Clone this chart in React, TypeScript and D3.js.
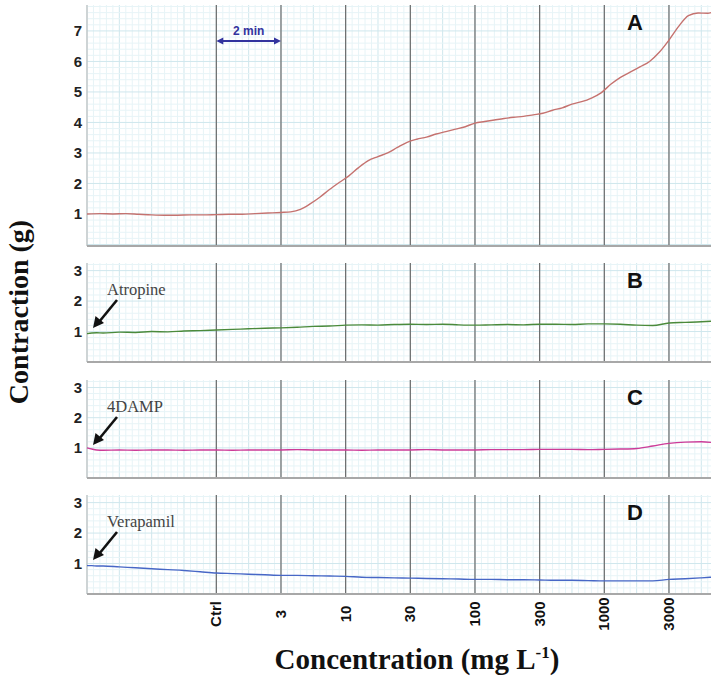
import React from "react";
import * as d3 from "d3";

// ---- data ----
const concLabels = ["Ctrl", "3", "10", "30", "100", "300", "1000", "3000"];
const concTimes = [4, 6, 8, 10, 12, 14, 16, 18]; // minutes on the trace

const aTime = [0, 0.4, 0.8, 1.2, 1.6, 2.0, 2.4, 2.8, 3.2, 3.6, 4.0, 4.4, 4.8, 5.2, 5.6, 6.0, 6.3, 6.6, 6.9, 7.2, 7.5, 7.8, 8.1, 8.4, 8.7, 9.0, 9.3, 9.6, 9.9, 10.2, 10.5, 10.8, 11.1, 11.4, 11.7, 12.0, 12.3, 12.6, 12.9, 13.2, 13.5, 13.8, 14.1, 14.4, 14.7, 15.0, 15.3, 15.6, 15.9, 16.2, 16.5, 16.8, 17.1, 17.4, 17.7, 18.0, 18.3, 18.6, 18.9, 19.2, 19.3];
const aValues = [1.0, 1.01, 1.0, 1.01, 0.99, 0.97, 0.96, 0.96, 0.97, 0.97, 0.98, 0.99, 0.99, 1.01, 1.03, 1.05, 1.07, 1.15, 1.33, 1.55, 1.8, 2.03, 2.25, 2.52, 2.75, 2.88, 3.0, 3.18, 3.35, 3.45, 3.52, 3.62, 3.7, 3.78, 3.86, 3.98, 4.03, 4.08, 4.13, 4.17, 4.2, 4.25, 4.3, 4.4, 4.48, 4.6, 4.68, 4.8, 4.97, 5.25, 5.48, 5.65, 5.82, 6.0, 6.3, 6.7, 7.15, 7.5, 7.59, 7.58, 7.6];

const bcdTime = [0, 0.15, 0.3, 0.5, 1.0, 1.5, 2.0, 2.5, 3.0, 3.5, 4.0, 4.5, 5.0, 5.5, 6.0, 6.5, 7.0, 7.5, 8.0, 8.5, 9.0, 9.5, 10.0, 10.5, 11.0, 11.5, 12.0, 12.5, 13.0, 13.5, 14.0, 14.5, 15.0, 15.5, 16.0, 16.5, 17.0, 17.5, 18.0, 18.5, 19.0, 19.3];
const atropine = [0.93, 0.95, 0.96, 0.95, 0.98, 0.97, 1.0, 0.99, 1.02, 1.03, 1.05, 1.07, 1.09, 1.11, 1.12, 1.14, 1.17, 1.18, 1.21, 1.22, 1.21, 1.23, 1.24, 1.23, 1.24, 1.22, 1.21, 1.22, 1.23, 1.22, 1.24, 1.24, 1.23, 1.25, 1.25, 1.24, 1.21, 1.2, 1.28, 1.3, 1.32, 1.34];
const damp4 = [1.0, 0.96, 0.93, 0.92, 0.93, 0.92, 0.93, 0.93, 0.92, 0.93, 0.93, 0.92, 0.93, 0.93, 0.93, 0.94, 0.93, 0.93, 0.93, 0.92, 0.93, 0.93, 0.93, 0.94, 0.93, 0.93, 0.93, 0.94, 0.94, 0.94, 0.95, 0.95, 0.95, 0.94, 0.95, 0.96, 0.98, 1.06, 1.15, 1.19, 1.2, 1.18];
const verapamil = [0.93, 0.93, 0.92, 0.92, 0.89, 0.86, 0.83, 0.8, 0.77, 0.73, 0.69, 0.67, 0.65, 0.63, 0.61, 0.61, 0.6, 0.59, 0.58, 0.55, 0.54, 0.53, 0.52, 0.51, 0.5, 0.49, 0.48, 0.48, 0.47, 0.47, 0.46, 0.45, 0.45, 0.44, 0.43, 0.43, 0.43, 0.43, 0.48, 0.5, 0.53, 0.55];

const panelLetters = ["A", "B", "C", "D"];
const drugNames = ["", "Atropine", "4DAMP", "Verapamil"];
const panelTicksA = [1, 2, 3, 4, 5, 6, 7];
const panelTicksBCD = [1, 2, 3];

// ---- layout ----
const W = 717;
const H = 679;
const X0 = 87;
const X1 = 711;
const tMax = 19.3;

const x = d3.scaleLinear().domain([0, tMax]).range([X0, X1]);

const panels = [
  { letter: panelLetters[0], drug: drugNames[0], top: 5, bottom: 246, domain: [-0.05, 7.85], ticks: panelTicksA, t: aTime, v: aValues, color: "#c5726f" },
  { letter: panelLetters[1], drug: drugNames[1], top: 263, bottom: 362, domain: [0, 3.25], ticks: panelTicksBCD, t: bcdTime, v: atropine, color: "#4b8a3b" },
  { letter: panelLetters[2], drug: drugNames[2], top: 380, bottom: 478, domain: [0, 3.25], ticks: panelTicksBCD, t: bcdTime, v: damp4, color: "#cc3b98" },
  { letter: panelLetters[3], drug: drugNames[3], top: 495, bottom: 594, domain: [0, 3.25], ticks: panelTicksBCD, t: bcdTime, v: verapamil, color: "#4767c6" },
];

const minorX = d3.range(0, tMax + 0.001, 0.2);
const SANS = "'Liberation Sans', Arial, sans-serif";
const SERIF = "'Liberation Serif', 'Times New Roman', serif";

function Panel({ p }: { p: any }) {
  const y = d3.scaleLinear().domain(p.domain).range([p.bottom, p.top]);
  const minorY = d3.range(Math.ceil(p.domain[0] / 0.2) * 0.2, p.domain[1] + 0.001, 0.2);
  const pts: [number, number][] = p.t.map((t: number, i: number) => [t, p.v[i]]);
  const line = d3
    .line<[number, number]>()
    .x((d) => x(d[0]))
    .y((d) => y(d[1]))
    .curve(d3.curveMonotoneX);
  return (
    <g>
      {minorX.map((t, i) => {
        const major = Math.abs(t - Math.round(t)) < 1e-6;
        return (
          <line key={"vx" + i} x1={x(t)} x2={x(t)} y1={p.top} y2={p.bottom}
            stroke={major ? "#cfe7ed" : "#e7f4f7"} strokeWidth={1} />
        );
      })}
      {minorY.map((v, i) => {
        const major = Math.abs(v - Math.round(v)) < 1e-6;
        return (
          <line key={"hy" + i} x1={X0} x2={X1} y1={y(v)} y2={y(v)}
            stroke={major ? "#cfe7ed" : "#e7f4f7"} strokeWidth={1} />
        );
      })}
      {concTimes.map((t, i) => (
        <line key={"c" + i} x1={x(t)} x2={x(t)} y1={p.top} y2={p.bottom}
          stroke="#6a6a6a" strokeWidth={1.2} />
      ))}
      <line x1={X0} x2={X0} y1={p.top} y2={p.bottom} stroke="#b5b5b5" strokeWidth={1} />
      <line x1={X0} x2={X1} y1={p.bottom} y2={p.bottom} stroke="#a8a8a8" strokeWidth={2} />
      {p.ticks.map((v: number) => (
        <text key={"yt" + v} x={82} y={y(v)} dy="0.36em" textAnchor="end"
          fontFamily={SANS} fontWeight="bold" fontSize={15} fill="#222">{v}</text>
      ))}
      <path d={line(pts) || ""} fill="none" stroke={p.color} strokeWidth={1.4} />
      <text x={635} y={p.top + 25} textAnchor="middle" fontFamily={SANS}
        fontWeight="bold" fontSize={22} fill="#111">{p.letter}</text>
      {p.drug && (
        <g>
          <text x={107} y={p.top + 32} fontFamily={SERIF} fontSize={16.5} fill="#444">{p.drug}</text>
          <line x1={117} y1={p.top + 37} x2={99} y2={p.top + 59} stroke="#111" strokeWidth={2.6} />
          <path d={`M${93},${p.top + 65} L${95.5},${p.top + 53} L${104},${p.top + 60} Z`} fill="#111" />
        </g>
      )}
    </g>
  );
}

export default function App() {
  return (
    <svg width={W} height={H} style={{ position: "absolute", left: 0, top: 0, background: "#fff" }}>
      <rect x={0} y={0} width={W} height={H} fill="#fff" />
      {panels.map((p) => (
        <Panel key={p.letter} p={p} />
      ))}
      {/* 2 min scale bar */}
      <g>
        <text x={(x(4) + x(6)) / 2} y={35} textAnchor="middle" fontFamily={SANS}
          fontWeight="bold" fontSize={12} fill="#33339e">2 min</text>
        <line x1={x(4) + 4} x2={x(6) - 4} y1={41} y2={41} stroke="#33339e" strokeWidth={2} />
        <path d={`M${x(4)},41 L${x(4) + 7},37.5 L${x(4) + 7},44.5 Z`} fill="#33339e" />
        <path d={`M${x(6)},41 L${x(6) - 7},37.5 L${x(6) - 7},44.5 Z`} fill="#33339e" />
      </g>
      {concLabels.map((lab, i) => (
        <text key={lab} transform={`translate(${x(concTimes[i]) + 5},${614}) rotate(-90)`}
          textAnchor="middle" fontFamily={SANS} fontWeight="bold" fontSize={15} fill="#111">{lab}</text>
      ))}
      <text transform="translate(28,312) rotate(-90)" textAnchor="middle" fontFamily={SERIF}
        fontWeight="bold" fontSize={28} fill="#111">Contraction (g)</text>
      <text x={417} y={669} textAnchor="middle" fontFamily={SERIF} fontWeight="bold"
        fontSize={29} fill="#111">
        Concentration (mg L<tspan dy={-11} fontSize={17}>-1</tspan><tspan dy={11}>)</tspan>
      </text>
    </svg>
  );
}
